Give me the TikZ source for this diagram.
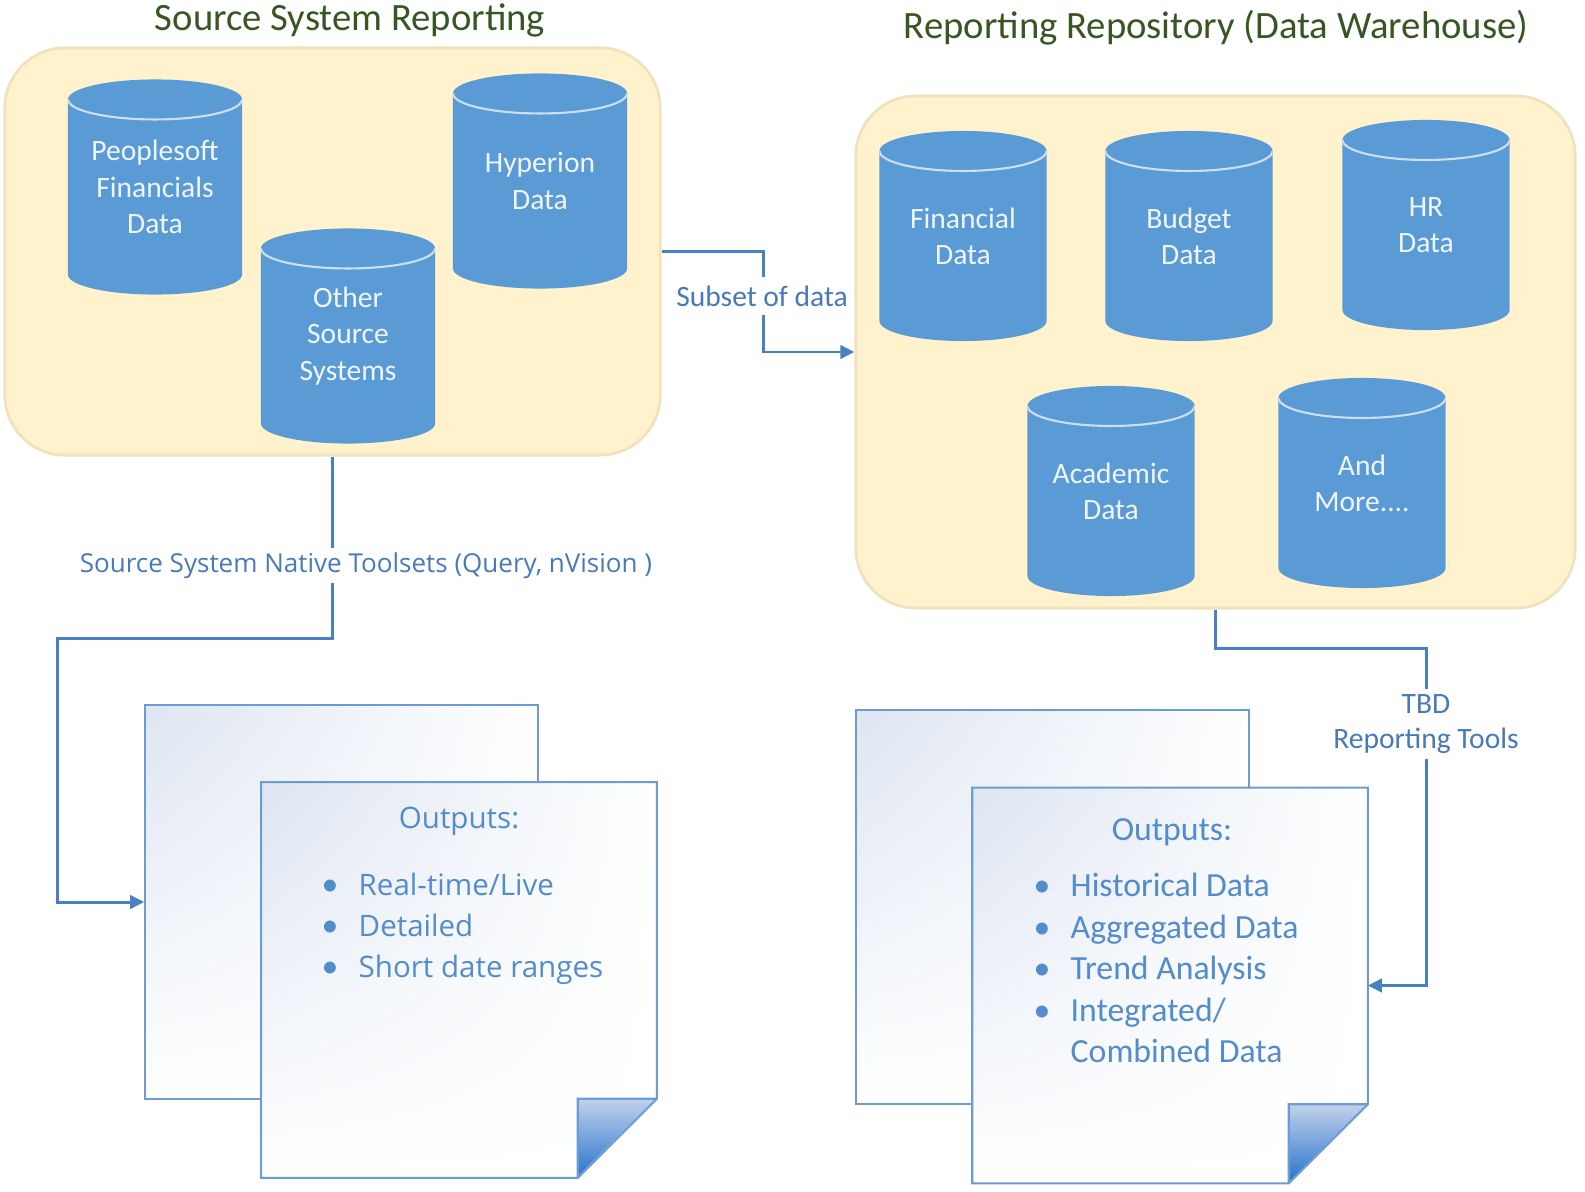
\documentclass[tikz,border=0pt]{standalone}
\usepackage{fontspec}
\setmainfont{Carlito}
\newfontfamily\segoe{Open Sans}
\usepackage{tikz}
\usetikzlibrary{arrows.meta}
\usetikzlibrary{calc,shadings}
\definecolor{titlegreen}{RGB}{55,86,35}
\definecolor{panelfill}{RGB}{255,242,204}
\definecolor{paneledge}{RGB}{240,226,188}
\definecolor{cylblue}{RGB}{91,155,213}
\definecolor{cylrim}{RGB}{205,222,240}
\definecolor{cyltext}{RGB}{240,245,252}
\definecolor{conblue}{RGB}{72,128,196}
\definecolor{lblblue}{RGB}{72,122,185}
\definecolor{txtblue}{RGB}{82,140,205}
\definecolor{pageedge}{RGB}{110,155,210}
\definecolor{pagetint}{RGB}{222,230,242}
\definecolor{foldlight}{RGB}{195,210,235}
\definecolor{folddark}{RGB}{40,115,205}

\newcommand{\bul}{\makebox[0.37cm][l]{\rmfamily\fontsize{9.6pt}{11.6pt}\selectfont\textbullet}}
% outline of a page with a folded corner
\newcommand{\pageoutline}[1]{%
  \draw[pageedge, line width=0.6pt] (#1.north west) -- (#1.north east) -- ([yshift=0.79cm]#1.south east)
    -- ([xshift=-0.79cm]#1.south east) -- (#1.south west) -- cycle
    ([yshift=0.79cm]#1.south east) -- ([shift={(-0.79cm,0.79cm)}]#1.south east) -- ([xshift=-0.79cm]#1.south east);}

\begin{document}
\begin{tikzpicture}[x=0.01cm, y=-0.01cm,
    title/.style={anchor=base, inner sep=0pt, text=titlegreen, font=\fontsize{11pt}{13pt}\selectfont},
    panel/.style={draw=paneledge, line width=0.8pt, fill=panelfill, rounded corners=0.6cm, inner sep=0pt},
    dbcyl/.style={minimum width=1.74cm, minimum height=2.15cm, inner sep=0pt, align=center,
        text=cyltext, font=\fontsize{8.4pt}{10.3pt}\selectfont,
        path picture={
            \fill[cylblue] let \p1=(path picture bounding box.south west),
                \p2=(path picture bounding box.north east), \n1={(\x2-\x1)/2} in
                (\x1,\y2-0.2cm) -- (\x1,\y1+0.2cm)
                arc[start angle=180, end angle=360, x radius=\n1, y radius=0.2cm]
                -- (\x2,\y2-0.2cm)
                arc[start angle=0, end angle=180, x radius=\n1, y radius=0.2cm] -- cycle;
            \draw[cylrim, line width=0.6pt] let \p1=(path picture bounding box.south west),
                \p2=(path picture bounding box.north east), \n1={(\x2-\x1)/2} in
                (\x1,\y2-0.2cm) arc[start angle=180, end angle=360, x radius=\n1, y radius=0.2cm];
        }},
    dwcyl/.style={minimum width=1.67cm, minimum height=2.1cm},
    backpage/.style={minimum width=3.93cm, minimum height=3.94cm, inner sep=0pt,
        path picture={\shade[upper left=pagetint, upper right=white, lower left=white, lower right=white]
            (path picture bounding box.south west) rectangle (path picture bounding box.north east);},
        postaction={draw=pageedge, line width=0.6pt}},
    frontpage/.style={minimum width=3.94cm, minimum height=3.94cm, inner sep=0pt,
        path picture={
            \shade[upper left=pagetint, upper right=white, lower left=white, lower right=white]
                (path picture bounding box.north west) -- (path picture bounding box.north east)
                -- ([yshift=0.79cm]path picture bounding box.south east)
                -- ([xshift=-0.79cm]path picture bounding box.south east)
                -- (path picture bounding box.south west) -- cycle;
            \shade[top color=foldlight, bottom color=folddark]
                ([yshift=0.79cm]path picture bounding box.south east)
                -- ([shift={(-0.79cm,0.79cm)}]path picture bounding box.south east)
                -- ([xshift=-0.79cm]path picture bounding box.south east) -- cycle;
        }},
    lli/.style={anchor=base west, inner sep=0pt, text=txtblue, font=\segoe\fontsize{8.4pt}{11.6pt}\selectfont},
    rli/.style={anchor=base west, inner sep=0pt, text=txtblue, font=\fontsize{9.6pt}{11.6pt}\selectfont},
    conn/.style={draw=conblue, line width=0.85pt, -{Triangle[length=4pt, width=3.8pt]}},
    lbl/.style={fill=white, inner xsep=1pt, inner ysep=2.5pt, text=lblblue, font=\fontsize{8.4pt}{10pt}\selectfont}]

    \useasboundingbox (0,0) rectangle (1585,1191);

    \node[title] (srctitle) at (350,31) {Source System Reporting};
    \node[title] (dwtitle) at (1216,39) {Reporting Repository (Data Warehouse)};

    \node[panel, minimum width=6.55cm, minimum height=4.07cm] (srcpanel) at (332.5,251.5) {};
    \node[panel, minimum width=7.19cm, minimum height=5.12cm] (dwpanel) at (1215.5,352) {};

    % source systems
    \node[dbcyl] (pscyl) at (155,187) {Peoplesoft\\Financials\\Data};
    \node[dbcyl] (hypcyl) at (540,181) {Hyperion\\Data};
    \node[dbcyl] (othcyl) at (348,336) {Other\\Source\\Systems};

    % warehouse
    \node[dbcyl, dwcyl] (fincyl) at (963,236) {Financial\\Data};
    \node[dbcyl, dwcyl] (budcyl) at (1189,236) {Budget\\Data};
    \node[dbcyl, dwcyl] (hrcyl) at (1426,225) {HR\\Data};
    \node[dbcyl, dwcyl] (acacyl) at (1111,491) {Academic\\Data};
    \node[dbcyl, dwcyl] (morecyl) at (1362,483) {And\\More....};

    % outputs
    \node[backpage] (lback) at (341.5,902) {};
    \node[frontpage] (lfront) at (459,980) {};
    \pageoutline{lfront}
    \node[backpage] (rback) at (1052.5,907) {};
    \node[frontpage] (rfront) at (1170,985.5) {};
    \pageoutline{rfront}

    \node[lli, anchor=base] (lhead) at (459,828) {Outputs:};
    \node[lli] (litem1) at (321,895) {\bul Real-time/Live};
    \node[lli] (litem2) at (321,936) {\bul Detailed};
    \node[lli] (litem3) at (321,977) {\bul Short date ranges};

    \node[rli, anchor=base] (rhead) at (1172,840) {Outputs:};
    \node[rli] (ritem1) at (1033,896) {\bul Historical Data};
    \node[rli] (ritem2) at (1033,938) {\bul Aggregated Data};
    \node[rli] (ritem3) at (1033,979) {\bul Trend Analysis};
    \node[rli] (ritem4) at (1033,1021) {\bul Integrated/};
    \node[rli] (ritem5) at (1070,1062) {Combined Data};

    % connectors
    \draw[conn] (srcpanel.east) -- ++(102,0) |- (dwpanel.west);
    \node[lbl, anchor=base] (subsetlbl) at (762,306) {Subset of data};

    \draw[conn] (srcpanel.south) -- ++(0,182) -| ([xshift=-0.87cm]lback.west) -- (lback.west);
    \node[lbl, anchor=base, inner ysep=1.3pt, font=\segoe\fontsize{7.4pt}{9pt}\selectfont] (toollbl) at (366,572) {Source System Native Toolsets (Query, nVision )};

    \draw[conn] (dwpanel.south) -- ++(0,39) -| ([xshift=0.59cm]rfront.east) -- (rfront.east);
    \node[lbl, align=center, inner ysep=1.5pt] (tbdlbl) at (1426,724) {TBD\\Reporting Tools};

\end{tikzpicture}
\end{document}
